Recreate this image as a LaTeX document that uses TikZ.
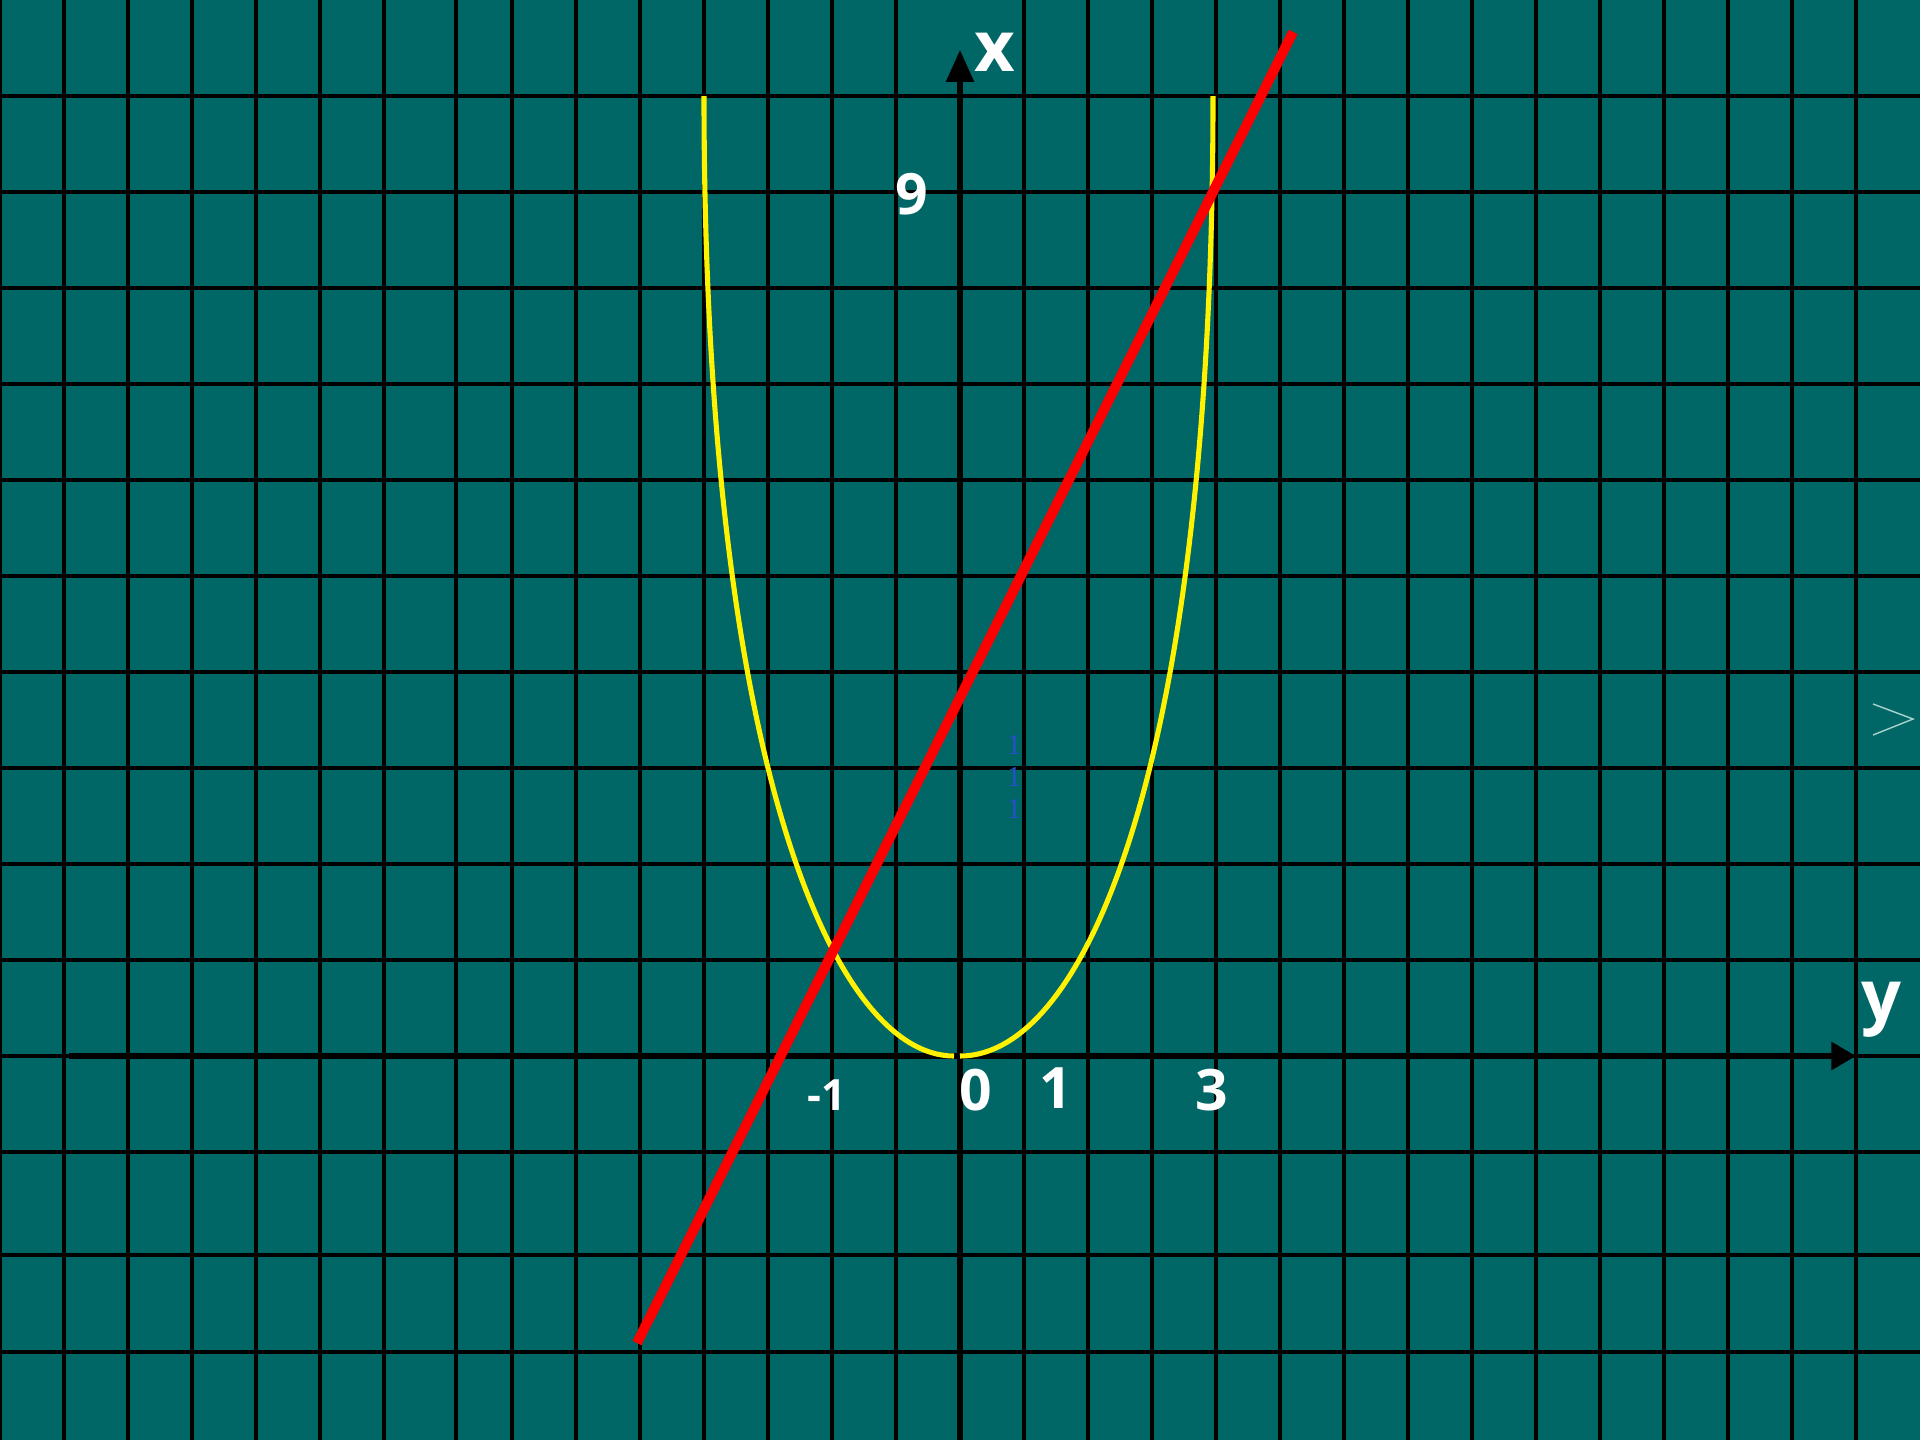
\documentclass[tikz,border=0pt]{standalone}
\usepackage{fontspec}
\setmainfont{Open Sans}
\newfontfamily\markfont{Liberation Serif}
\usetikzlibrary{arrows.meta}
\definecolor{boardteal}{HTML}{006666}
\definecolor{markblue}{HTML}{2452C8}
\definecolor{hintgrey}{HTML}{A8D4CC}

\begin{document}
\begin{tikzpicture}[
    x=0.02cm,y=-0.02cm,
    gridline/.style={black,line width=1.8pt},
    axis/.style={black,line width=2.9pt},
    curve/.style={yellow,line width=2.9pt},
    redline/.style={red,line width=5.7pt},
    axlabel/.style={text=white,font=\fontsize{40}{40}\selectfont\bfseries,anchor=base,inner sep=0pt},
    tick/.style={text=white,font=\fontsize{32.5}{32.5}\selectfont\bfseries,anchor=base,inner sep=0pt},
    small/.style={text=markblue,font=\fontsize{16.5}{16.5}\selectfont\markfont,anchor=base,inner sep=0pt}
  ]
    \fill[boardteal] (0,0) rectangle (1920,1440);
    \useasboundingbox (0,0) rectangle (1920,1440);
    % grid
    \foreach \gx in {0,64,128,192,256,320,384,456,512,576,640,704,768,832,896,1024,1088,1152,1216,1280,1344,1408,1472,1536,1600,1664,1728,1792,1856}
      \draw[gridline] (\gx,0) -- (\gx,1440);
    \foreach \gy in {96,192,288,384,480,576,672,768,864,960,1056,1152,1255,1352}
      \draw[gridline] (0,\gy) -- (1920,\gy);
    % axes
    \coordinate (hstart) at (69,1056);
    \coordinate (hend) at (1856,1056);
    \coordinate (vstart) at (960,1440);
    \coordinate (vend) at (960,50);
    \draw[axis,-{Triangle[length=14pt,width=15.5pt]}] (hstart) -- (hend);
    \draw[axis,-{Triangle[length=18.2pt,width=15.5pt]}] (vstart) -- (vend);
    % curves
    \coordinate (ltop) at (704,96);
    \coordinate (lbot) at (954,1056);
    \coordinate (rbot) at (960,1056);
    \coordinate (rtop) at (1213,96);
    \draw[curve] (ltop) .. controls (704,760) and (833,1056) .. (lbot);
    \draw[curve] (rbot) .. controls (1087,1056) and (1213,760) .. (rtop);
    \coordinate (rlow) at (637,1343);
    \coordinate (rhigh) at (1293,32);
    \draw[redline] (rlow) -- (rhigh);
    % labels
    \node[axlabel] (xlab) at (995,71) {x};
    \node[axlabel] (ylab) at (1881,1020) {y};
    \node[tick] (nine) at (912,214) {9};
    \node[tick] (zero) at (976,1110) {0};
    \node[tick] (one) at (1056,1108) {1};
    \node[tick] (three) at (1212,1110) {3};
    \node[tick,font=\fontsize{24.5}{24.5}\selectfont\bfseries] (minusone) at (827,1110) {-1};
    \node[small] (onea) at (1014,754) {1};
    \node[small] (oneb) at (1014,786) {1};
    \node[small] (onec) at (1014,818) {1};
    \draw[hintgrey,line width=0.8pt] (1873,704) -- (1913,719) -- (1873,735);
  \end{tikzpicture}
\end{document}
